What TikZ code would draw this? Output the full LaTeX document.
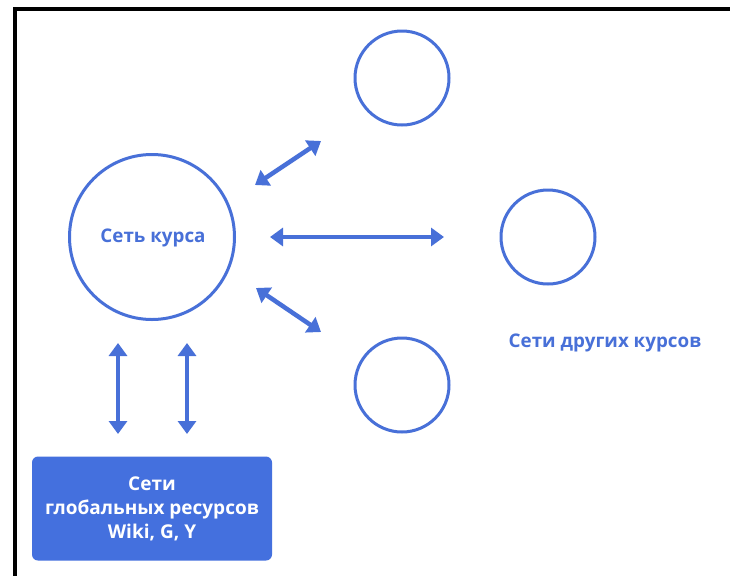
\documentclass[tikz,border=0pt]{standalone}
\usepackage{fontspec}
\setmainfont{Open Sans}
\usetikzlibrary{arrows.meta}
\definecolor{netblue}{RGB}{72,112,216}
\definecolor{boxblue}{RGB}{68,112,222}
\tikzset{
  ring/.style={circle,draw=netblue,line width=3pt,inner sep=0pt},
  link/.style={draw=netblue,line width=4.5pt,{Triangle[width=18pt,length=13pt]}-{Triangle[width=18pt,length=13pt]}},
  lbl/.style={text=netblue,font=\bfseries\fontsize{18.8}{21}\selectfont},
  frame/.style={line width=3.5pt,black}
}
\begin{document}
\begin{tikzpicture}[x=1pt,y=-1pt]
\useasboundingbox (0,0) rectangle (730,576);
\fill[white] (0,0) rectangle (730,576);
% frame
\coordinate (fa) at (730,9);
\coordinate (fb) at (15,9);
\coordinate (fc) at (15,576);
\draw[frame] (fa) -- (fb) -- (fc);
% circles
\node[ring,minimum size=165pt] (main) at (152,237) {};
\node[lbl] (mainlbl) at (153,238) {Сеть курса};
\node[ring,minimum size=94pt] (top) at (402,78) {};
\node[ring,minimum size=94pt] (right) at (548,237) {};
\node[ring,minimum size=94pt] (bot) at (402,385) {};
\node[lbl] (others) at (605,343) {Сети других курсов};
% box
\node[fill=boxblue,rounded corners=6pt,minimum width=240pt,minimum height=104pt,
      text=white,align=center,font=\bfseries\fontsize{19}{24}\selectfont] (glob) at (152,508.5)
  {Сети\\глобальных ресурсов\\Wiki, G, Y};
% arrow endpoints
\coordinate (a1s) at (255,185);
\coordinate (a1e) at (321,141);
\coordinate (a2s) at (270,237);
\coordinate (a2e) at (444,237);
\coordinate (a3s) at (256,288);
\coordinate (a3e) at (321,332);
\coordinate (v1s) at (118,343);
\coordinate (v1e) at (118,434);
\coordinate (v2s) at (187,343);
\coordinate (v2e) at (187,434);
\draw[link] (a1s) -- (a1e);
\draw[link] (a2s) -- (a2e);
\draw[link] (a3s) -- (a3e);
\draw[link] (v1s) -- (v1e);
\draw[link] (v2s) -- (v2e);
\end{tikzpicture}
\end{document}
